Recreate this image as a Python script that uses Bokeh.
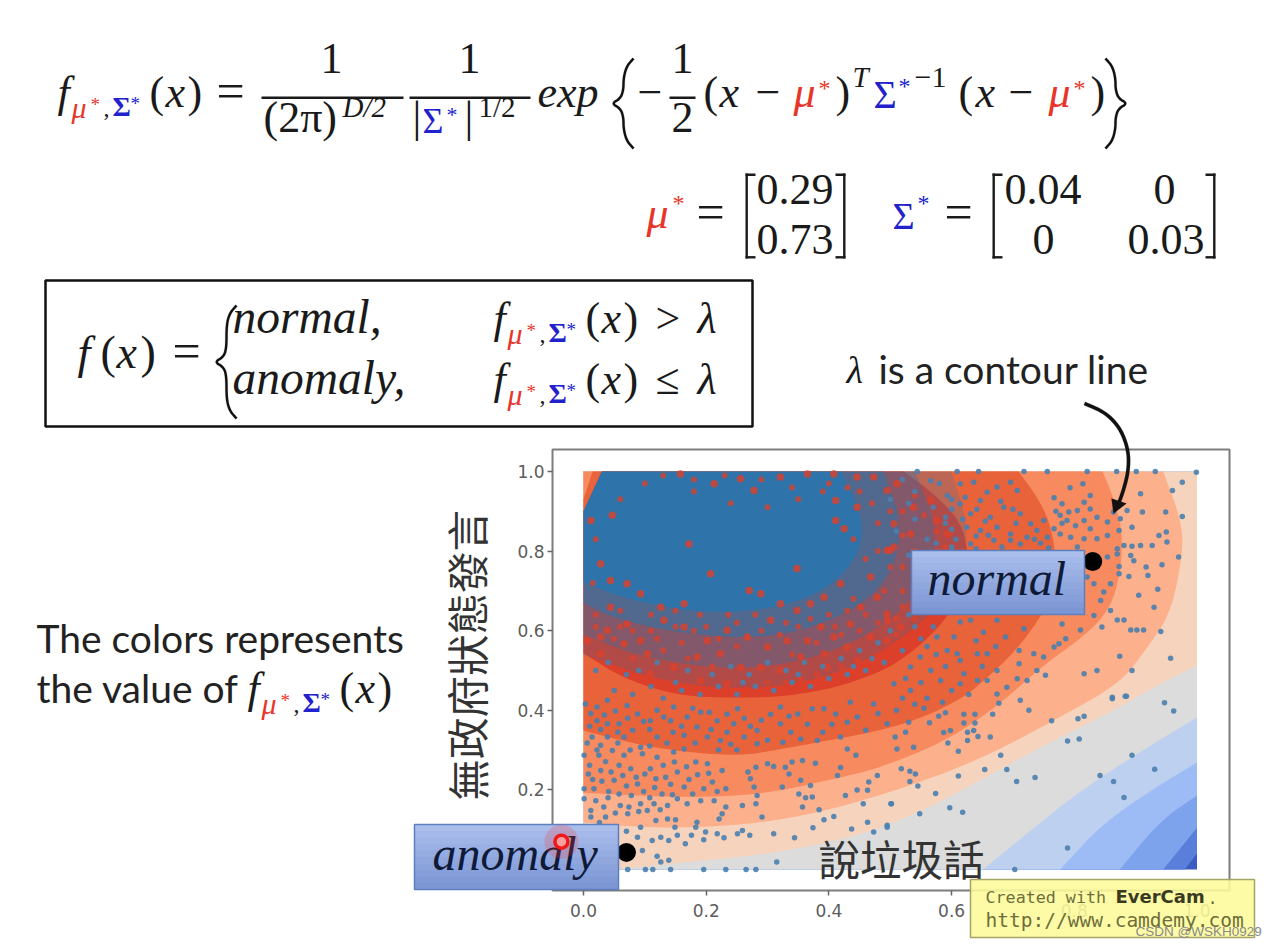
from bokeh.plotting import figure
from bokeh.models import Label, BoxAnnotation, PolyAnnotation, Range1d, NumeralTickFormatter, LinearAxis, FixedTicker
from bokeh.embed import file_html
from bokeh.resources import INLINE

# ---- contour boundaries (outer to inner) ----
band_colors = ["#3b5cc0", "#5a7fdb", "#7ea3ed", "#9dbcf5", "#bdd0f0", "#dcdcdc", "#f6d3bd", "#fcb08c", "#f78a5e", "#e8623a", "#dc3f2a"]
edge_e = [(1, .040), (.98, 0)]
edge_d = [(1, .105), (.945, 0)]
edge_c = [(1, .186), (.94, .123), (.874, 0)]
edge_b = [(1, .269), (.924, .198), (.843, .111), (.777, 0)]
edge_a = [(1, .382), (.919, .307), (.810, .198), (.729, .098), (.651, 0)]
edge_5 = [(1, .513), (.940, .467), (.864, .399), (.756, .317), (.647, .224), (.554, .148), (.451, .085), (.310, .040), (.147, .015), (.05, 0)]
edge_4 = [(.945, 1), (.976, .869), (.976, .784), (.957, .643), (.919, .558), (.875, .467), (.766, .374), (.675, .299), (.593, .244), (.484, .186), (.365, .136), (.256, .111), (.126, .103), (0, .118)]
edge_3 = [(.846, 1), (.864, .935), (.879, .844), (.875, .744), (.859, .658), (.822, .593), (.745, .508), (.680, .417), (.593, .324), (.484, .256), (.419, .231), (.284, .186), (.147, .181), (0, .193)]
edge_2 = [(.709, 1), (.740, .935), (.761, .869), (.771, .776), (.761, .688), (.745, .633), (.701, .543), (.647, .467), (.619, .432), (.554, .382), (.484, .349), (.391, .322), (.310, .299), (.256, .286), (.174, .294), (.093, .312), (0, .349)]
edge_1 = [(.522, 1), (.569, .947), (.614, .877), (.628, .796), (.623, .714), (.593, .633), (.549, .563), (.500, .508), (.447, .475), (.391, .450), (.310, .432), (.202, .432), (.142, .442), (.065, .480), (0, .543)]
corner_1 = [(0, .90), (.03, 1)]
corner_2 = [(0, .93), (.015, 1)]

# ---- dense point cloud seen as a blue haze, edges ----
haze_color = "#1f77b4"
haze_a = [(.60, 1), (.63, .85), (.61, .72), (.54, .60), (.42, .49), (.28, .45), (.13, .47), (0, .54)]
haze_b = [(.54, 1), (.58, .85), (.56, .72), (.49, .61), (.38, .53), (.25, .50), (.10, .53), (0, .59)]
haze_c = [(.49, 1), (.52, .86), (.50, .73), (.43, .64), (.31, .58), (.17, .59), (.05, .63), (0, .67)]
haze_d = [(.42, 1), (.46, .87), (.44, .76), (.36, .67), (.22, .64), (.09, .67), (0, .72)]
haze_alpha = [.22, .32, .5, .7]
haze_corner = [(0, .9), (.03, 1)]

# ---- scatter points ----
pts_lower_right = [(.862,.429),(.885,.435),(.947,.419),(.962,.398),(.763,.374),(.806,.379),(.816,.385),(.789,.323),(.808,.328),(.894,.287),(.931,.252),(.842,.236),(.864,.221),(.881,.181),(.789,.054),(.703,.0),(.736,.231),(.706,.221),(.690,.251),(.654,.251),(.611,.235),(.680,.287),(.611,.297),(.663,.333),(.643,.334),(.626,.324),(.594,.318),(.587,.344),(.598,.349),(.626,.345),(.636,.349),(.638,.368),(.620,.368),(.638,.390),(.620,.390),(.667,.390),(.726,.400),(.712,.425),(.677,.418),(.628,.440),(.564,.369),(.579,.385),(.590,.394),(.508,.333),(.511,.303),(.538,.307),(.518,.253),(.532,.247),(.541,.240),(.532,.221),(.545,.210),(.574,.191),(.502,.165),(.548,.140),(.597,.155),(.618,.144),(.495,.106)]
pts_bottom = [(.072,0),(.101,0),(.113,0),(.142,0),(.196,0),(.232,0),(.265,0),(.281,0),(.315,.019),(.139,.023),(.126,.019),(.120,.033),(.096,.048),(.088,.081),(.093,.106),(.070,.096),(.112,.073),(.126,.081),(.139,.073),(.153,.086),(.166,.065),(.176,.086),(.183,.106),(.196,.075),(.199,.094),(.218,.090),(.229,.080),(.251,.090),(.259,.098),(.271,.086),(.310,.090),(.344,.080),(.374,.105),(.437,.102),(.463,.119),(.473,.094),(.495,.111)]
pts_middle = [(.118,.123),(.137,.127),(.150,.125),(.149,.106),(.185,.119),(.221,.127),(.226,.140),(.232,.157),(.259,.161),(.281,.165),(.291,.132),(.357,.157),(.384,.150),(.392,.125),(.408,.133),(.427,.186),(.446,.200),(.456,.165),(.463,.199),(.465,.220),(.479,.236),(.501,.165),(.370,.211),(.354,.224),(.351,.190),(.362,.180),(.373,.182),(.324,.207),(.283,.186),(.278,.207),(.272,.228),(.268,.245),(.281,.257),(.300,.266),(.310,.259),(.329,.257),(.335,.240),(.340,.270),(.357,.274),(.378,.267),(.414,.236),(.419,.256),(.430,.303),(.444,.287)]
pts_left = [(.001,.287),(.025,.287),(.001,.203),(.017,.203),(.001,.178),(.020,.173),(.033,.157),(.012,.148),(.012,.132),(.060,.161),(.074,.157),(.093,.165),(.115,.165),(.137,.161),(.153,.178),(.169,.165),(.191,.173),(.213,.173),(.164,.207),(.196,.203),(.210,.220),(.232,.203),(.134,.232),(.109,.253),(.088,.215),(.050,.224),(.028,.249),(.077,.253),(.153,.245),(.183,.270),(.202,.266),(.226,.249),(.028,.312),(.047,.299),(.096,.291),(.120,.282),(.147,.295),(.164,.303),(.093,.307),(.066,.287),(.014,.333)]
pts_left_more = [(.010,.262),(.036,.271),(.058,.262),(.045,.245),(.064,.236),(.030,.222),(.070,.210),(.041,.196),(.058,.190),(.078,.186),(.098,.196),(.116,.206),(.128,.190),(.142,.214),(.118,.228),(.100,.240),(.086,.232),(.130,.262),(.148,.270),(.168,.258),(.172,.226),(.186,.238),(.204,.242),(.218,.196),(.178,.190),(.145,.188),(.108,.180),(.090,.146),(.072,.140),(.052,.142),(.036,.132),(.026,.118),(.104,.148),(.125,.150),(.040,.180),(.008,.240),(.015,.226),(.022,.300),(.006,.318),(.056,.318),(.076,.300),(.108,.310),(.136,.318),(.182,.318),(.146,.345),(.108,.352),(.080,.350),(.056,.345),(.028,.352),(.010,.360),(.012,.392),(.034,.388),(.052,.398),(.072,.380),(.098,.372),(.120,.400),(.142,.374),(.160,.360),(.178,.405),(.205,.395),(.234,.390),(.262,.380),(.272,.360),(.234,.345),(.208,.352),(.290,.375),(.305,.390),(.335,.385),(.338,.345),(.365,.365),(.390,.345),(.405,.365),(.430,.370),(.460,.350),(.480,.392),(.510,.400),(.530,.370),(.555,.405),(.525,.345),(.300,.325),(.325,.320),(.240,.315),(.250,.300),(.220,.300)]
pts_dark_band = [(.003,.416),(.022,.408),(.039,.425),(.058,.366),(.088,.391),(.071,.412),(.109,.374),(.131,.383),(.147,.408),(.169,.383),(.185,.358),(.191,.395),(.218,.374),(.223,.324),(.251,.404),(.245,.366),(.283,.349),(.321,.366),(.349,.391),(.321,.408),(.373,.404),(.392,.404),(.411,.391),(.435,.420),(.446,.383),(.473,.416),(.495,.366),(.419,.333),(.381,.324),(.354,.328),(.283,.316),(.039,.333),(.066,.333),(.120,.333),(.164,.337),(.202,.333),(.262,.333),(.022,.374),(.039,.366)]
pts_right = [(.999,.998),(.976,.973),(.960,.952),(.908,.944),(.976,.887),(.949,.898),(.911,.898),(.894,.860),(.950,.848),(.938,.839),(.951,.823),(.927,.814),(.908,.814),(.894,.812),(.881,.814),(.970,.785),(.943,.766),(.917,.760),(.920,.739),(.889,.736),(.873,.761),(.892,.789),(.897,.776),(.905,.689),(.936,.704),(.930,.659),(.870,.627),(.881,.627),(.892,.602),(.902,.602),(.913,.602),(.941,.598),(.957,.531),(.874,.536),(.894,.500),(.837,.500),(.816,.492),(.845,.609),(.859,.651),(.832,.638),(.810,.602),(.786,.580),(.775,.567),(.767,.559),(.780,.617),(.750,.534),(.734,.542),(.710,.550),(.710,.517),(.739,.500),(.753,.488),(.723,.475),(.707,.479),(.690,.458),(.674,.441),(.674,.500),(.658,.475),(.862,.433),(.883,.435)]
pts_upper_right = [(.793,.959),(.814,.969),(.826,.940),(.816,.923),(.780,.919),(.767,.934),(.805,.902),(.826,.906),(.791,.898),(.777,.890),(.837,.885),(.854,.873),(.864,.898),(.886,.902),(.875,.881),(.788,.877),(.816,.877),(.802,.864),(.826,.856),(.767,.856),(.837,.831),(.854,.839),(.873,.852),(.816,.831),(.794,.835),(.777,.843),(.756,.835),(.805,.810),(.870,.806),(.854,.785),(.870,.793),(.832,.718),(.859,.718),(.848,.697),(.821,.735),(.873,.743),(.843,.676)]
pts_upper_mid = [(.718,1),(.756,1),(.821,1),(.869,1),(.901,1),(.932,1),(.544,1),(.644,1),(.609,1),(.566,.977),(.614,.969),(.636,.973),(.696,.973),(.674,.961),(.658,.948),(.707,.952),(.593,.940),(.614,.919),(.647,.927),(.685,.910),(.712,.894),(.729,.869),(.750,.877),(.631,.894),(.663,.885),(.696,.843),(.674,.860),(.647,.852),(.625,.860),(.723,.835),(.712,.818),(.669,.827),(.631,.818),(.696,.827),(.745,.820),(.739,.852),(.600,.905),(.622,.935),(.641,.905),(.655,.875),(.680,.925),(.700,.905),(.618,.880),(.640,.838),(.660,.840),(.682,.810),(.705,.870),(.735,.830),(.758,.808),(.780,.870),(.770,.900),(.600,.855),(.590,.885),(.607,.830),(.575,.820),(.600,.800),(.640,.805)]
pts_below_box = [(.614,.622),(.631,.626),(.652,.596),(.674,.626),(.688,.584),(.718,.605),(.604,.584),(.576,.584),(.593,.550),(.549,.534),(.533,.509),(.566,.500),(.609,.542),(.614,.525),(.642,.542),(.658,.542),(.620,.492),(.642,.475),(.582,.475),(.533,.450),(.506,.467),(.614,.467),(.560,.560),(.575,.540),(.525,.480),(.550,.470),(.590,.510),(.600,.450),(.560,.430),(.520,.430),(.585,.420),(.540,.415),(.650,.510),(.672,.560),(.640,.575)]
pts_core_edge = [(.05,.45),(.08,.44),(.11,.46),(.13,.43),(.16,.45),(.19,.44),(.22,.46),(.25,.44),(.28,.46),(.31,.45),(.34,.47),(.37,.46),(.40,.48),(.43,.49),(.46,.50),(.49,.52),(.52,.55),(.55,.58),(.57,.61),(.59,.66),(.60,.70),(.61,.75),(.60,.81),(.59,.87),(.57,.91),(.54,.95),(.02,.50),(.04,.52),(.09,.50),(.12,.52),(.17,.50),(.21,.49),(.24,.51),(.27,.49),(.30,.52),(.33,.50),(.36,.52),(.39,.51),(.42,.53),(.45,.55),(.48,.57),(.50,.60),(.53,.64),(.55,.68),(.57,.72),(.58,.78),(.56,.83),(.54,.88),(.53,.92),(.60,.93),(.58,.97),(.52,.98),(.50,.93),(.55,.74),(.53,.79),(.51,.85),(.57,.66),(.54,.61),(.47,.53),(.44,.51),(.35,.49),(.26,.47),(.15,.47),(.07,.49)]

# gaps in the dense cloud, where the red band shows through
gaps = [(.256,.982),(.278,.952),(.321,.986),(.365,.994),(.408,.994),(.446,.986),(.473,.986),(.213,.969),(.158,.994),(.411,.927),(.446,.910),(.411,.877),(.425,.856),(.495,.802),(.348,.756),(.207,.743),(.172,.818),(.270,.701),(.289,.693),(.321,.668),(.305,.626),(.348,.651),(.370,.668),(.392,.684),(.419,.718),(.468,.735),(.479,.684),(.452,.659),(.495,.626),(.435,.617),(.387,.609),(.408,.584),(.365,.575),(.332,.575),(.300,.559),(.267,.584),(.234,.601),(.202,.575),(.164,.609),(.131,.626),(.093,.575),(.071,.617),(.039,.601),(.006,.575),(.028,.584),(.104,.542),(.147,.508),(.185,.534),(.223,.542),(.256,.508),(.289,.508),(.321,.500),(.354,.534),(.392,.542),(.430,.559),(.468,.584),(.495,.542),(.109,.492),(.147,.467),(.191,.475),(.234,.467),(.267,.450),(.354,.475),(.397,.508),(.446,.525),(.066,.567),(.044,.659),(.012,.877),(.047,.890),(.028,.768),(.044,.726),(.071,.718),(.093,.693),(.126,.659),(.164,.668),(.028,.542),(.495,.952),(.511,.969),(.538,.910),(.566,.927),(.506,.869),(.533,.843),(.500,.802),(.576,.877),(.593,.843),(.506,.810),(.495,.642),(.517,.609),(.495,.575),(.517,.559),(.538,.584)]
gaps_more = [(.236,.640),(.190,.640),(.150,.650),(.110,.640),(.060,.650),(.020,.640),(.280,.640),(.330,.620),(.400,.640),(.440,.680),(.490,.700),(.520,.660),(.540,.720),(.520,.760),(.540,.800),(.560,.770),(.460,.780),(.440,.830),(.480,.870),(.520,.900),(.470,.920),(.430,.960),(.390,.950),(.350,.930),(.300,.910),(.240,.920),(.180,.950),(.100,.970),(.060,.930),(.020,.830),(.015,.720),(.080,.600),(.120,.580),(.160,.570),(.180,.600),(.220,.580),(.250,.560),(.290,.600),(.340,.540),(.380,.570),(.420,.590),(.450,.600),(.480,.620),(.020,.610),(.050,.580),(.080,.530),(.130,.550),(.170,.530),(.210,.510),(.300,.470),(.330,.470),(.380,.490),(.420,.510),(.470,.530),(.510,.590),(.540,.630),(.560,.670),(.575,.700),(.590,.740),(.590,.810),(.575,.850),(.555,.890),(.540,.940),(.150,.610),(.110,.600),(.060,.610),(.200,.610),(.250,.620),(.320,.590),(.350,.610),(.370,.630),(.410,.610),(.430,.650),(.460,.640),(.510,.630),(.520,.700),(.500,.760),(.480,.800),(.520,.840),(.500,.900),(.450,.950),(.400,.970),(.340,.960),(.290,.980),(.230,.990),(.180,.980),(.130,.990)]

normal_point = (.83, .774)
anomaly_point = (.07, .043)
cursor_point = (-.036, .07)

x_ticks = [0, .2, .4, .6, .8, 1.0]
y_ticks = [.2, .4, .6, .8, 1.0]
x_limits = (-.0505, 1.053)
y_limits = (-.0528, 1.055)

W, H = 1271, 946

def fx(px): return px
def fy(py): return H - py

# the whole slide is one frame; 0 and 1 on the axes sit where the reference has them
p = figure(width=W, height=H, output_backend="svg", toolbar_location=None,
           x_range=Range1d((0 - 583) / 613.5, (W - 583) / 613.5),
           y_range=Range1d((869 - H) / 398, 869 / 398),
           x_axis_type=None, y_axis_type=None,
           min_border=0, background_fill_color="white", border_fill_color="white", outline_line_color=None)
p.grid.visible = False

xaxis = LinearAxis(fixed_location=y_limits[0])
yaxis = LinearAxis(fixed_location=x_limits[0])
p.add_layout(xaxis, "below")
p.add_layout(yaxis, "left")
for ax, ticks in ((xaxis, x_ticks), (yaxis, y_ticks)):
    ax.ticker = FixedTicker(ticks=ticks)
    ax.formatter = NumeralTickFormatter(format="0.0")
    ax.major_label_text_font = "DejaVu Sans"
    ax.major_label_text_font_size = "17px"
    ax.major_label_text_color = "#5c5c5c"
    ax.axis_line_color = None
    ax.minor_tick_line_color = None
    ax.major_tick_in = 0
    ax.major_tick_out = 5
    ax.major_tick_line_color = "#666666"
    ax.major_tick_line_width = 1.5
xaxis.major_label_standoff = 8
yaxis.major_label_standoff = 3

def chaikin(pts, n=3):
    for _ in range(n):
        out = [pts[0]]
        for a, b in zip(pts, pts[1:]):
            out.append((.75 * a[0] + .25 * b[0], .75 * a[1] + .25 * b[1]))
            out.append((.25 * a[0] + .75 * b[0], .25 * a[1] + .75 * b[1]))
        out.append(pts[-1])
        pts = out
    return pts

def poly(points, color, alpha=1.0):
    p.patch([a for a, _ in points], [b for _, b in points], fill_color=color, fill_alpha=alpha, line_color=None)

p.quad(left=[0], right=[1], bottom=[0], top=[1], fill_color=band_colors[0], line_color=None)
for edge, col in zip([edge_e, edge_d, edge_c, edge_b, edge_a, edge_5], band_colors[1:7]):
    poly(chaikin(edge) + [(0, 0), (0, 1), (1, 1)], col)
poly(chaikin(edge_4) + [(0, 1)], band_colors[7])
poly(chaikin(edge_3) + [(0, 1)], band_colors[8])
poly(chaikin(edge_2) + corner_2, band_colors[9])
poly(chaikin(edge_1) + corner_1, band_colors[10])
for h, a in zip((haze_a, haze_b, haze_c, haze_d), haze_alpha):
    poly(chaikin(h) + haze_corner, haze_color, a)

p.scatter([a for a, _ in gaps], [b for _, b in gaps], size=7.5, color="#dd4029", alpha=.8, line_color=None)
p.scatter([a for a, _ in gaps_more], [b for _, b in gaps_more], size=6, color="#dd4029", alpha=.75, line_color=None)
all_pts = (pts_lower_right + pts_bottom + pts_middle + pts_left + pts_left_more + pts_dark_band + pts_right
           + pts_upper_right + pts_upper_mid + pts_below_box + pts_core_edge)
p.scatter([a for a, _ in all_pts], [b for _, b in all_pts], size=5.5, color="#4a7fae", alpha=.9, line_color=None)
p.scatter([normal_point[0], anomaly_point[0]], [normal_point[1], anomaly_point[1]], size=19, color="black", line_color=None)

# axes box
p.quad(left=[x_limits[0]], right=[x_limits[1]], bottom=[y_limits[0]], top=[y_limits[1]],
       fill_color=None, line_color="#7d7d7d", line_width=2)

def rect(x0, y0, x1, y1, fill, alpha=1.0, line=None, lw=0):
    p.add_layout(BoxAnnotation(left=fx(x0), right=fx(x1), top=fy(y0), bottom=fy(y1),
                               left_units="screen", right_units="screen", top_units="screen", bottom_units="screen",
                               fill_color=fill, fill_alpha=alpha, line_color=line, line_width=lw, line_alpha=1 if line else 0))

def T(text, x, y, size, color="#1a1a1a", font="Liberation Serif", style="normal", align="left", angle=0):
    # Bokeh sets the alphabetic baseline of a screen-unit label about .38 em low in this rendering
    yy = y if angle else y - .38 * size
    p.add_layout(Label(x=fx(x), y=fy(yy), x_units="screen", y_units="screen", text=text, text_font=font,
                       text_font_size=f"{size}px", text_font_style=style, text_color=color, text_align=align,
                       text_baseline="alphabetic", angle=angle))

def stroke(pts, w=2.0, color="#111111", smooth=True):
    c = chaikin(pts) if smooth else pts
    left, right = [], []
    for i, (x, y) in enumerate(c):
        a = c[max(i - 1, 0)]; b = c[min(i + 1, len(c) - 1)]
        dx, dy = b[0] - a[0], b[1] - a[1]
        n = (dx * dx + dy * dy) ** .5 or 1
        left.append((x - dy / n * w / 2, y + dx / n * w / 2))
        right.append((x + dy / n * w / 2, y - dx / n * w / 2))
    outline = left + right[::-1]
    p.add_layout(PolyAnnotation(xs=[fx(a) for a, _ in outline], ys=[fy(b) for _, b in outline],
                                xs_units="screen", ys_units="screen", fill_color=color, fill_alpha=1,
                                line_color=color, line_width=.5))

def lbrace(c, t, b, w=2.4):
    m = (t + b) / 2
    stroke([(c + 13, t), (c + 6, t + 8), (c + 3, t + 20), (c + 3, m - 14), (c, m - 5), (c - 9, m),
            (c, m + 5), (c + 3, m + 14), (c + 3, b - 20), (c + 6, b - 8), (c + 13, b)], w)

def rbrace(c, t, b, w=2.4):
    m = (t + b) / 2
    stroke([(c - 13, t), (c - 6, t + 8), (c - 3, t + 20), (c - 3, m - 14), (c, m - 5), (c + 9, m),
            (c, m + 5), (c - 3, m + 14), (c - 3, b - 20), (c - 6, b - 8), (c - 13, b)], w)

def bar(x0, y0, x1, y1):
    rect(x0, y0, x1, y1, "#1a1a1a")

def lbracket(x, t, b):
    bar(x, t, x + 2.4, b); bar(x, t, x + 10, t + 2.4); bar(x, b - 2.4, x + 10, b)

def rbracket(x, t, b):
    bar(x - 2.4, t, x, b); bar(x - 10, t, x, t + 2.4); bar(x - 10, b - 2.4, x, b)

RED, BLUE = "#e8352b", "#2222cc"

def fsub(x, base):
    T("f", x, base, 44, style="italic")
    T("μ", x + 14, base + 9, 30, RED, style="italic")
    T("*", x + 33, base + 2, 19, RED)
    T(",", x + 46, base + 8, 24)
    T("Σ", x + 55, base + 8, 28, BLUE, style="bold")
    T("*", x + 73, base + 1, 19, BLUE)
    T("(", x + 92, base, 44)
    T("x", x + 108, base, 44, style="italic")
    T(")", x + 130, base, 44)

# ---- top formula ----
fsub(57, 109)
T("=", 216, 109, 50)
T("1", 331, 75, 44, align="center")
bar(261, 96, 403, 98.5)
T("(2π)", 263, 134, 44)
T("D/2", 342, 118, 29, style="italic")
T("1", 469, 75, 44, align="center")
bar(409, 96, 530, 98.5)
T("|", 412, 134, 44)
T("Σ", 422, 134, 36, BLUE)
T("*", 446, 122, 22, BLUE)
T("|", 464, 134, 44)
T("1/2", 478, 118, 29)
T("exp", 537, 109, 44, style="italic")
lbrace(620, 58, 148)
T("−", 637, 109, 44)
T("1", 682, 75, 44, align="center")
bar(669, 96, 695, 98.5)
T("2", 682, 134, 44, align="center")
T("(", 703, 109, 44)
T("x", 719, 109, 44, style="italic")
T("−", 755, 109, 44)
T("μ", 793, 109, 44, RED, style="italic")
T("*", 818, 97, 24, RED)
T(")", 835, 109, 44)
T("T", 852, 88, 29, style="italic")
T("Σ", 873, 109, 40, BLUE)
T("*", 898, 95, 24, BLUE)
T("−1", 914, 88, 30)
T("(", 958, 109, 44)
T("x", 975, 109, 44, style="italic")
T("−", 1008, 109, 44)
T("μ", 1048, 109, 44, RED, style="italic")
T("*", 1073, 97, 24, RED)
T(")", 1090, 109, 44)
rbrace(1118, 58, 148)

# ---- mean and covariance ----
T("μ", 646, 230, 44, RED, style="italic")
T("*", 672, 212, 24, RED)
T("=", 696, 230, 50)
lbracket(745, 173, 258)
T("0.29", 756, 206, 44)
T("0.73", 756, 256, 44)
rbracket(845, 173, 258)
T("Σ", 892, 230, 38, BLUE)
T("*", 917, 212, 24, BLUE)
T("=", 944, 230, 50)
lbracket(992, 173, 258)
T("0.04", 1004, 206, 44)
T("0", 1164, 206, 44, align="center")
T("0", 1043, 256, 44, align="center")
T("0.03", 1127, 256, 44)
rbracket(1215, 173, 258)

# ---- decision rule box ----
rect(45, 280, 752, 426, None, 0, "#111111", 2.5)
T("f", 77, 369, 46, style="italic")
T("(", 100, 369, 46)
T("x", 116, 369, 46, style="italic")
T(")", 140, 369, 46)
T("=", 172, 369, 50)
lbrace(223, 305, 418)
T("normal,", 232, 335, 47.5, style="italic")
T("anomaly,", 232, 396, 47.5, style="italic")
fsub(493, 335)
T(">", 655, 335, 44)
T("λ", 697, 335, 44, style="italic")
fsub(493, 396)
T("≤", 655, 396, 44)
T("λ", 697, 396, 44, style="italic")

# ---- texts beside the chart ----
T("λ", 846, 384, 38, style="italic")
T("is a contour line", 878, 383, 39, "#222222", "Lato")
T("The colors represents", 36, 652, 39, "#222222", "Lato")
T("the value of", 36, 702, 39, "#222222", "Lato")
fsub(247, 705)

# arrow
stroke([(1084, 403), (1105, 412), (1120, 428), (1128, 450), (1128, 470), (1123, 490), (1117, 506)], 3.5)
arrow_head = [(1113, 513), (1111, 498), (1126, 503)]
p.add_layout(PolyAnnotation(xs=[fx(a) for a, _ in arrow_head], ys=[fy(b) for _, b in arrow_head],
                            xs_units="screen", ys_units="screen", fill_color="#111111", fill_alpha=1,
                            line_color="#111111", line_width=.5))

# chinese labels over the chart
T("無政府狀態發言", 466, 800, 41.5, "#333333", "Noto Sans CJK TC", angle=1.5708)
T("說垃圾話", 818, 873, 41.5, "#333333", "Noto Sans CJK TC")

# blue tags
def tag(x0, y0, x1, y1, text, tx, tb, size):
    n = 10
    for i in range(n):
        f = i / (n - 1)
        c = "#%02x%02x%02x" % (int(170 - 46 * f), int(190 - 40 * f), int(236 - 24 * f))
        bottom = y1 if i == n - 1 else y0 + (y1 - y0) * (i + 1) / n + 1
        rect(x0, y0 + (y1 - y0) * i / n, x1, bottom, c)
    rect(x0, y0, x1, y1, None, 0, "#5d7fc0", 1.5)
    T(text, tx, tb, size, "#0f1a38", style="italic")

tag(911, 550, 1084, 614, "normal", 927, 596, 48)
tag(414, 824, 618, 889, "anomaly", 432, 871, 48)

# EverCam stamp
rect(970, 879, 1254, 937, "#fdfb9a", .88, "#a5a56a", 1.5)
T("Created with", 985, 903, 16.7, "#6e6e3c", "DejaVu Sans Mono")
T("EverCam", 1115, 903, 18, "#3a3a20", "DejaVu Sans", style="bold")
T(".", 1207, 903, 17, "#6e6e3c", "DejaVu Sans Mono")
T("http://www.camdemy.com", 985, 927, 19.5, "#6e6e3c", "DejaVu Sans Mono")
T("CSDN @WSKH0929", 1135, 936, 13.5, "#8a8a8a", "Liberation Sans")

# cursor marker on top of the tag
p.scatter([cursor_point[0]], [cursor_point[1]], size=34, color="#ff3030", alpha=.22, line_color=None, level="overlay")
p.scatter([cursor_point[0]], [cursor_point[1]], size=13, color="#f8a0a0", line_color="#f01818", line_width=3.5, level="overlay")

open("out.html", "w").write(file_html(p, INLINE))
